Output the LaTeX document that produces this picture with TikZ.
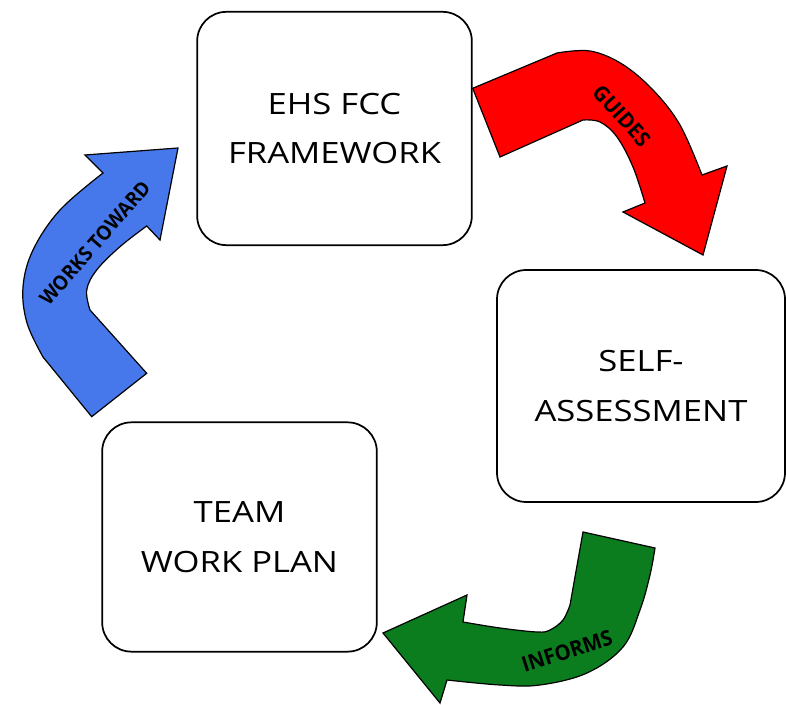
\documentclass[tikz,border=0pt]{standalone}
\usepackage{fontspec}
\setmainfont{Open Sans}[FakeStretch=1.18]
\newfontfamily\labelfont{Open Sans}[FakeStretch=0.95]
\definecolor{arrred}{RGB}{255,0,0}
\definecolor{arrgreen}{RGB}{12,125,30}
\definecolor{arrblue}{RGB}{70,120,235}
\begin{document}
\begin{tikzpicture}[x=0.75pt,y=-0.75pt,
  box/.style={draw=black, line width=1.3pt, rounded corners=22pt, fill=white, align=center,
    font=\fontsize{22}{37}\selectfont, inner sep=0pt},
  bigarrow/.style={draw=black, line width=0.9pt, line join=miter},
  arrlabel/.style={font=\labelfont\bfseries\fontsize{16}{18}\selectfont, inner sep=0pt}]
\useasboundingbox (0,0) rectangle (786,705);
% boxes
\node[box, minimum width=206pt, minimum height=175pt] (ehs) at (334.5,128.5) {EHS FCC\\FRAMEWORK};
\node[box, minimum width=216pt, minimum height=174pt] (self) at (641,386) {SELF-\\ASSESSMENT};
\node[box, minimum width=206pt, minimum height=172pt] (team) at (239.5,537) {TEAM\\WORK PLAN};
% red arrow
\draw[bigarrow, fill=arrred] (472.7,88.3) -- plot[smooth, tension=0.6] coordinates {(557,53) (590,51) (622,64) (653,90) (680,125) (702,175)}
  -- (727,166) -- (703,255) -- (623,212)
  -- plot[smooth, tension=0.6] coordinates {(645,203) (633,167) (617,137) (600,122) (583,120)}
  -- (500,157) -- cycle;
% green arrow
\draw[bigarrow, fill=arrgreen] (655,548) -- (583,532) -- (570,605)
  -- plot[smooth, tension=0.6] coordinates {(570,605) (563,620) (550,630) (537,632) (500,628) (463,622)}
  -- (467,595) -- (383,633) -- (440,703) -- (447,680)
  -- plot[smooth, tension=0.6] coordinates {(447,680) (500,685) (540,685) (587,673) (623,647) (640,610) (650,575) (655,548)}
  -- cycle;
% blue arrow
\draw[bigarrow, fill=arrblue] (91.7,416.7) -- (146.7,373.3) -- (90,310)
  -- plot[smooth, tension=0.6] coordinates {(90,310) (86.7,290) (96.7,270) (120,246.7) (146.7,226)}
  -- (160,240) -- (178,148) -- (85,155) -- (103,173)
  -- plot[smooth, tension=0.6] coordinates {(103,173) (60,210) (33,250) (23,287) (27,323) (43,357)}
  -- cycle;
% labels
\node[arrlabel, rotate=-48] (guides) at (622,116) {GUIDES};
\node[arrlabel, rotate=18] (informs) at (567,651) {INFORMS};
\node[arrlabel, rotate=49, font=\labelfont\bfseries\fontsize{15}{17}\selectfont] (works) at (95,243) {WORKS TOWARD};
\end{tikzpicture}
\end{document}
